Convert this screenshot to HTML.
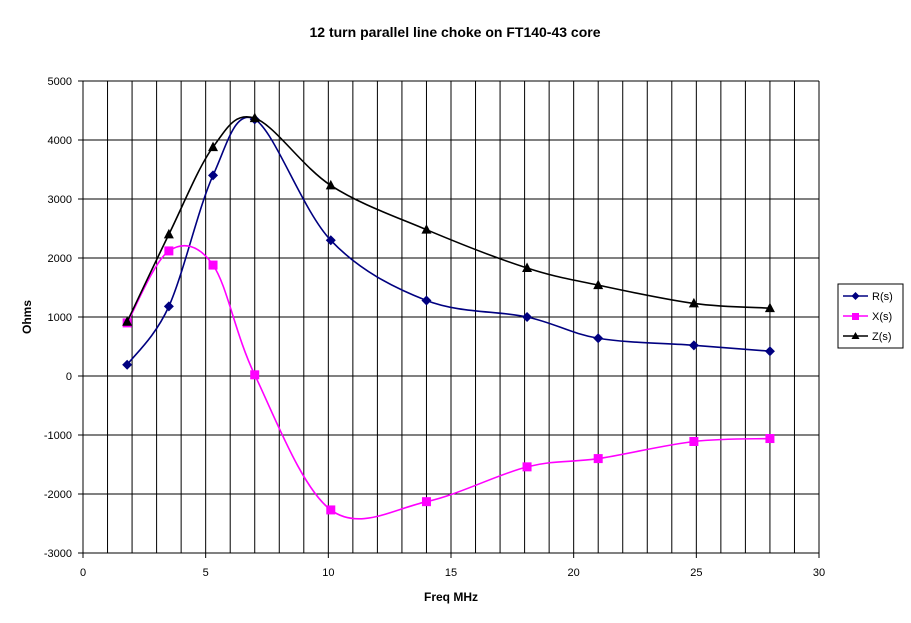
<!DOCTYPE html>
<html><head><meta charset="utf-8"><style>
body{margin:0;background:#fff;}
svg{display:block;font-family:"Liberation Sans",Arial,sans-serif;}
</style></head><body>
<svg id="c" width="911" height="623" xmlns="http://www.w3.org/2000/svg">
<text x="455" y="37" text-anchor="middle" font-size="14" font-weight="bold">12 turn parallel line choke on FT140-43 core</text>
<g id="grid"></g>
<g id="series"></g>
<text x="451" y="601" text-anchor="middle" font-size="12" font-weight="bold">Freq MHz</text>
<text transform="translate(31,317) rotate(-90)" text-anchor="middle" font-size="12" font-weight="bold">Ohms</text>
<rect x="838" y="284" width="65" height="64" fill="#fff" stroke="#000"/>
<line x1="843" y1="296" x2="868" y2="296" stroke="#000080" stroke-width="1.5"/><path d="M855.5,292 L859.5,296 L855.5,300 L851.5,296Z" fill="#000080"/>
<text x="872" y="300" font-size="11">R(s)</text>
<line x1="843" y1="316" x2="868" y2="316" stroke="#ff00ff" stroke-width="1.5"/><rect x="852" y="313" width="7" height="7" fill="#ff00ff"/>
<text x="872" y="320" font-size="11">X(s)</text>
<line x1="843" y1="336" x2="868" y2="336" stroke="#000" stroke-width="1.5"/><path d="M855.5,332 L859.5,339 L851.5,339Z" fill="#000"/>
<text x="872" y="340" font-size="11">Z(s)</text>
</svg>
<script>
var NS="http://www.w3.org/2000/svg";
function X(v){return 83+v*736/30;}function Y(v){return 376-v*0.059;}
var g=document.getElementById('grid'),h='';
for(var i=0;i<=30;i++){var x=X(i);h+='<line x1="'+x+'" y1="81" x2="'+x+'" y2="553" stroke="#000" stroke-width="1"/>';}
for(var v=-3000;v<=5000;v+=1000){var y=Y(v);h+='<line x1="78" y1="'+y+'" x2="819" y2="'+y+'" stroke="#000" stroke-width="1"/>';
h+='<text x="72" y="'+(y+4)+'" text-anchor="end" font-size="11">'+v+'</text>';}
for(var i=0;i<=30;i+=5){h+='<line x1="'+X(i)+'" y1="553" x2="'+X(i)+'" y2="558" stroke="#000"/><text x="'+X(i)+'" y="576" text-anchor="middle" font-size="11">'+i+'</text>';}
g.innerHTML=h;
var f=[1.8,3.5,5.3,7,10.1,14,18.1,21,24.9,28];
var S=[
 {c:"#000080",m:"d",d:[190,1180,3400,4350,2300,1280,1000,640,520,420]},
 {c:"#ff00ff",m:"s",d:[900,2120,1880,20,-2270,-2130,-1540,-1400,-1110,-1060]},
 {c:"#000",m:"t",d:[920,2400,3880,4370,3230,2480,1830,1540,1230,1150]}];
var out='';
S.forEach(function(s){
 var p=f.map(function(x,i){return [X(x),Y(s.d[i])];});
 var d='M'+p[0][0]+','+p[0][1];
 for(var i=0;i<p.length-1;i++){
  var p0=p[i-1]||p[i],p1=p[i],p2=p[i+1],p3=p[i+2]||p[i+1],t=6;
  d+=' C'+(p1[0]+(p2[0]-p0[0])/t)+','+(p1[1]+(p2[1]-p0[1])/t)+' '+(p2[0]-(p3[0]-p1[0])/t)+','+(p2[1]-(p3[1]-p1[1])/t)+' '+p2[0]+','+p2[1];
 }
 out+='<path d="'+d+'" fill="none" stroke="'+s.c+'" stroke-width="1.6"/>';
 p.forEach(function(q){var x=q[0],y=q[1];
  if(s.m=="d")out+='<path d="M'+x+','+(y-5)+' L'+(x+5)+','+y+' L'+x+','+(y+5)+' L'+(x-5)+','+y+'Z" fill="'+s.c+'"/>';
  else if(s.m=="s")out+='<rect x="'+(x-4.5)+'" y="'+(y-4.5)+'" width="9" height="9" fill="'+s.c+'"/>';
  else out+='<path d="M'+x+','+(y-5.5)+' L'+(x+5)+','+(y+4)+' L'+(x-5)+','+(y+4)+'Z" fill="'+s.c+'"/>';
 });
});
document.getElementById('series').innerHTML=out;
</script>
</body></html>
